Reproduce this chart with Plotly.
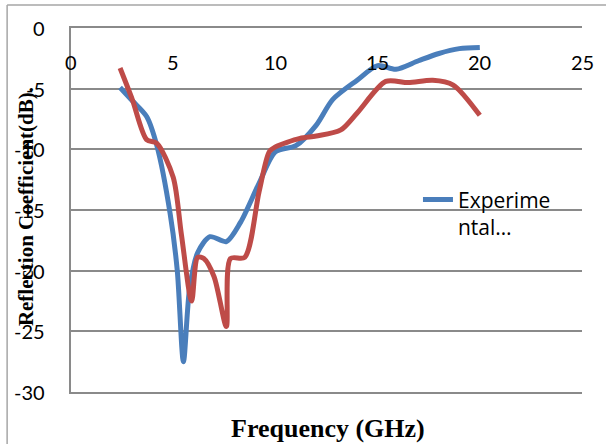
import plotly.graph_objects as go

# Experimental series
exp_f = [2.4, 3.0, 3.7, 4.2, 4.85, 5.2, 5.5, 5.8, 6.2, 6.8, 7.6, 8.3, 9.2, 10.0, 11.0, 12.0, 12.8, 14.0, 15.0, 15.9, 17.0, 18.0, 19.0, 20.0]
exp_db = [-4.9, -6.0, -7.3, -9.7, -15.3, -20.0, -27.5, -21.5, -18.5, -17.2, -17.6, -16.0, -12.8, -10.2, -9.7, -8.0, -5.9, -4.3, -3.1, -3.4, -2.7, -2.1, -1.7, -1.6]

# Second (simulated) series
sim_f = [2.4, 3.0, 3.7, 4.2, 5.0, 5.4, 5.9, 6.2, 6.5, 7.0, 7.6, 7.8, 8.5, 9.2, 9.7, 10.0, 11.2, 12.0, 13.2, 14.0, 15.4, 16.5, 17.7, 18.7, 20.0]
sim_db = [-3.3, -5.9, -9.2, -9.5, -12.3, -17.0, -22.5, -18.9, -19.0, -20.5, -24.6, -19.0, -18.9, -13.5, -10.2, -9.8, -9.1, -8.9, -8.4, -7.0, -4.4, -4.5, -4.3, -4.7, -7.2]

x_ticks = [0, 5, 10, 15, 20, 25]
y_ticks = [0, -5, -10, -15, -20, -25, -30]

legend_name = "Experime<br>ntal…"
sim_name = "Simulated"
x_title = "Frequency (GHz)"
y_title = "Reflection Coefficient(dB)."

grid_col = "#8a8a8a"
tick_font = dict(family="Lato, Open Sans, sans-serif", size=20, color="#000000")
legend_font = dict(family="Open Sans, Lato, sans-serif", size=21, color="#000000")
title_family = "Liberation Serif, Times New Roman, serif"

fig = go.Figure()
fig.add_trace(go.Scatter(x=exp_f, y=exp_db, mode="lines", name=legend_name,
                         line=dict(color="#4a7ebb", width=5, shape="spline", smoothing=0.8)))
fig.add_trace(go.Scatter(x=sim_f, y=sim_db, mode="lines", name=sim_name, showlegend=False,
                         line=dict(color="#be4b48", width=5, shape="spline", smoothing=0.8)))

# x tick labels sit just below the y=0 line (axis crosses at the top)
x_tick_ann = [dict(text=str(v), x=v, y=0, xref="x", yref="y", showarrow=False,
                   xanchor="center", yanchor="top", yshift=-20, font=tick_font)
              for v in x_ticks]
# y tick labels
y_tick_ann = [dict(text=str(v), x=0, y=v, xref="x", yref="y", showarrow=False,
                   xanchor="right", yanchor="middle", xshift=-24, font=tick_font)
              for v in y_ticks]

fig.update_layout(
    width=606, height=444,
    margin=dict(l=71, r=24, t=28, b=52, autoexpand=False),
    paper_bgcolor="white", plot_bgcolor="white",
    showlegend=True,
    legend=dict(x=0.679, y=0.584, xanchor="left", yanchor="top", font=legend_font,
                valign="top", bgcolor="rgba(0,0,0,0)", borderwidth=0),
    xaxis=dict(range=[0, 25], tickvals=x_ticks, showticklabels=False, automargin=False,
               showgrid=False, zeroline=False, showline=True, mirror=True,
               linecolor=grid_col, linewidth=1.6, ticks=""),
    yaxis=dict(range=[-30, 0], tickvals=y_ticks, showticklabels=False, automargin=False,
               showgrid=True, gridcolor=grid_col, gridwidth=1.6,
               zeroline=False, showline=True, linecolor=grid_col, linewidth=1.6, ticks=""),
    annotations=x_tick_ann + y_tick_ann + [
        dict(text="<b>" + y_title + "</b>", xref="paper", yref="paper", x=-0.088, y=0.508,
             textangle=-90, showarrow=False, xanchor="center", yanchor="middle",
             font=dict(family=title_family, size=21, color="#000000")),
        dict(text="<b>" + x_title + "</b>", xref="paper", yref="paper", x=0.503, y=-0.099,
             showarrow=False, xanchor="center", yanchor="middle",
             font=dict(family=title_family, size=26, color="#000000")),
    ],
    shapes=[
        dict(type="line", xref="paper", yref="paper", x0=-0.125, x1=1.1, y0=1.063, y1=1.063,
             line=dict(color="#a6a6a6", width=1.5)),
        dict(type="line", xref="paper", yref="paper", x0=-0.125, x1=-0.125, y0=1.063, y1=-0.2,
             line=dict(color="#a6a6a6", width=1.5)),
    ],
)

fig.write_html("out.html", config={"displayModeBar": False},
               post_script="document.body.style.margin='0';")
